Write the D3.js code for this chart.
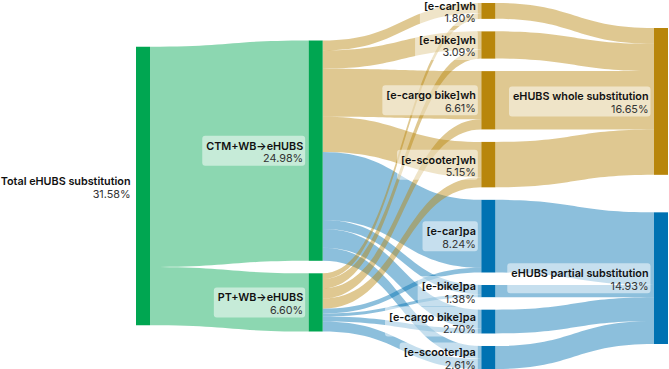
<!DOCTYPE html>
<html>
<head>
<meta charset="utf-8">
<script src="https://cdn.jsdelivr.net/npm/d3@7"></script>
<style>
  html, body { margin: 0; padding: 0; background: #fff; }
  svg { display: block; font-family: Inter, "Noto Sans", sans-serif; }
</style>
</head>
<body>
<svg id="chart"></svg>
<script>
const width = 669, height = 369;

// nodes, in column order
const nodeNames = [
  "Total eHUBS substitution",
  "CTM+WB→eHUBS", "PT+WB→eHUBS",
  "[e-car]wh", "[e-bike]wh", "[e-cargo bike]wh", "[e-scooter]wh",
  "[e-car]pa", "[e-bike]pa", "[e-cargo bike]pa", "[e-scooter]pa",
  "eHUBS whole substitution", "eHUBS partial substitution"
];

// flows (% of trips)
const linkSource = [
  "Total eHUBS substitution", "Total eHUBS substitution",
  "CTM+WB→eHUBS", "CTM+WB→eHUBS", "CTM+WB→eHUBS", "CTM+WB→eHUBS",
  "CTM+WB→eHUBS", "CTM+WB→eHUBS", "CTM+WB→eHUBS", "CTM+WB→eHUBS",
  "PT+WB→eHUBS", "PT+WB→eHUBS", "PT+WB→eHUBS", "PT+WB→eHUBS",
  "PT+WB→eHUBS", "PT+WB→eHUBS", "PT+WB→eHUBS", "PT+WB→eHUBS",
  "[e-car]wh", "[e-bike]wh", "[e-cargo bike]wh", "[e-scooter]wh",
  "[e-car]pa", "[e-bike]pa", "[e-cargo bike]pa", "[e-scooter]pa"
];
const linkTarget = [
  "CTM+WB→eHUBS", "PT+WB→eHUBS",
  "[e-car]wh", "[e-bike]wh", "[e-cargo bike]wh", "[e-scooter]wh",
  "[e-car]pa", "[e-bike]pa", "[e-cargo bike]pa", "[e-scooter]pa",
  "[e-car]wh", "[e-bike]wh", "[e-cargo bike]wh", "[e-scooter]wh",
  "[e-car]pa", "[e-bike]pa", "[e-cargo bike]pa", "[e-scooter]pa",
  "eHUBS whole substitution", "eHUBS whole substitution",
  "eHUBS whole substitution", "eHUBS whole substitution",
  "eHUBS partial substitution", "eHUBS partial substitution",
  "eHUBS partial substitution", "eHUBS partial substitution"
];
const linkValues = [
  24.98, 6.60,
  1.14, 2.05, 5.45, 4.00, 7.70, 1.04, 2.13, 1.47,
  0.66, 1.04, 1.16, 1.15, 0.54, 0.34, 0.57, 1.14,
  1.80, 3.09, 6.61, 5.15, 8.24, 1.38, 2.70, 2.61
];

const colors = { mode: "#00a651", whole: "#b8860b", partial: "#0072b2" };
const kindOf = name => /wh$|whole/.test(name) ? "whole" : (/pa$|partial/.test(name) ? "partial" : "mode");

// layout box and settings
const boxLeft = 136, boxRight = 668, boxTop = 3, boxBottom = 369;
const nodeWidth = 14, py = 12.5;

const nodes = nodeNames.map((name, index) => ({ name, index, outLinks: [], inLinks: [] }));
const byName = new Map(nodes.map(d => [d.name, d]));
const links = linkValues.map((value, index) => ({
  index, value, source: byName.get(linkSource[index]), target: byName.get(linkTarget[index])
}));
links.forEach(l => { l.source.outLinks.push(l); l.target.inLinks.push(l); });
nodes.forEach(d => {
  d.value = Math.max(d3.sum(d.outLinks, l => l.value), d3.sum(d.inLinks, l => l.value));
});

// columns (justify: sinks go to the last column)
let current = nodes.filter(d => !d.inLinks.length), depth = 0;
while (current.length) {
  const next = new Set();
  current.forEach(n => { n.depth = depth; n.outLinks.forEach(l => next.add(l.target)); });
  depth++;
  current = [...next];
}
const nCols = d3.max(nodes, d => d.depth) + 1;
nodes.forEach(d => d.col = d.outLinks.length ? d.depth : nCols - 1);

const x = d3.scaleLinear().domain([0, nCols - 1]).range([boxLeft, boxRight - nodeWidth]);
nodes.forEach(d => { d.x0 = x(d.col); d.x1 = d.x0 + nodeWidth; });

const columns = d3.range(nCols).map(i => nodes.filter(d => d.col === i));
const kyVal = d3.min(columns, c => (boxBottom - boxTop - (c.length - 1) * py) / d3.sum(c, d => d.value));
const ky = d3.scaleLinear().domain([0, 1]).range([0, kyVal]);
links.forEach(l => { l.width = ky(l.value); });

// stack each column and spread the spare room evenly
columns.forEach(col => {
  let y = boxTop;
  col.forEach(d => { d.y0 = y; d.y1 = y + ky(d.value); y = d.y1 + py; });
  const extra = (boxBottom - y + py) / (col.length + 1);
  col.forEach((d, i) => { d.y0 += extra * (i + 1); d.y1 += extra * (i + 1); });
});

// nodes fed by a single node line up with that node's outgoing slots
columns.forEach(col => {
  col.forEach(d => {
    const srcs = new Set(d.inLinks.map(l => l.source));
    if (srcs.size !== 1) return;
    const s = d.inLinks[0].source;
    let y = s.y0 - (s.outLinks.length - 1) * py / 2;
    for (const l of s.outLinks) { if (l.target === d) break; y += l.width + py; }
    const h = d.y1 - d.y0;
    d.y0 = y; d.y1 = y + h;
  });
  let y = boxTop;
  col.forEach(d => {
    const dy = y - d.y0;
    if (dy > 0) { d.y0 += dy; d.y1 += dy; }
    y = d.y1 + py;
  });
});

// link offsets inside each node
nodes.forEach(d => {
  d.outLinks.sort((a, b) => a.target.y0 - b.target.y0);
  d.inLinks.sort((a, b) => a.source.y0 - b.source.y0);
  let a = d.y0, b = d.y0;
  d.outLinks.forEach(l => { l.sy = a; a += l.width; });
  d.inLinks.forEach(l => { l.ty = b; b += l.width; });
});

// drawing
const svg = d3.select("#chart")
  .attr("width", width)
  .attr("height", height)
  .attr("viewBox", [0, 0, width, height]);

function linkArea(l) {
  const xa = l.source.x1, xb = l.target.x0, xm = (xa + xb) / 2;
  const p = d3.path();
  p.moveTo(xa, l.sy);
  p.bezierCurveTo(xm, l.sy, xm, l.ty, xb, l.ty);
  p.lineTo(xb, l.ty + l.width);
  p.bezierCurveTo(xm, l.ty + l.width, xm, l.sy + l.width, xa, l.sy + l.width);
  p.closePath();
  return p.toString();
}

svg.append("g")
  .selectAll("path")
  .data(links)
  .join("path")
  .attr("d", linkArea)
  .attr("fill", d => colors[kindOf(d.target.name)])
  .attr("fill-opacity", 0.45);

svg.append("g")
  .selectAll("rect")
  .data(nodes)
  .join("rect")
  .attr("x", d => d.x0)
  .attr("y", d => d.y0)
  .attr("width", d => d.x1 - d.x0)
  .attr("height", d => d.y1 - d.y0)
  .attr("fill", d => colors[kindOf(d.name)]);

const fmt = d3.format(".2f");
const label = svg.append("g")
  .selectAll("g")
  .data(nodes)
  .join("g")
  .attr("transform", d => `translate(${d.x0 - 5.5},${(d.y0 + d.y1) / 2})`);

const bg = label.append("rect")
  .attr("fill", "#fff")
  .attr("fill-opacity", 0.5)
  .attr("rx", 3);

label.append("text")
  .attr("text-anchor", "end")
  .attr("y", -1)
  .style("font-size", "10.8px")
  .style("font-weight", 600)
  .style("fill", "#111")
  .text(d => d.name);

label.append("text")
  .attr("text-anchor", "end")
  .attr("y", 11.5)
  .style("font-size", "10.8px")
  .style("fill", "#333")
  .text(d => fmt(d.value) + "%");

bg.each(function () {
  const g = d3.select(this.parentNode);
  const w = d3.max(g.selectAll("text").nodes(), t => t.getComputedTextLength());
  d3.select(this)
    .attr("x", -w - 4)
    .attr("y", -15)
    .attr("width", w + 6)
    .attr("height", 30);
});
</script>
</body>
</html>
